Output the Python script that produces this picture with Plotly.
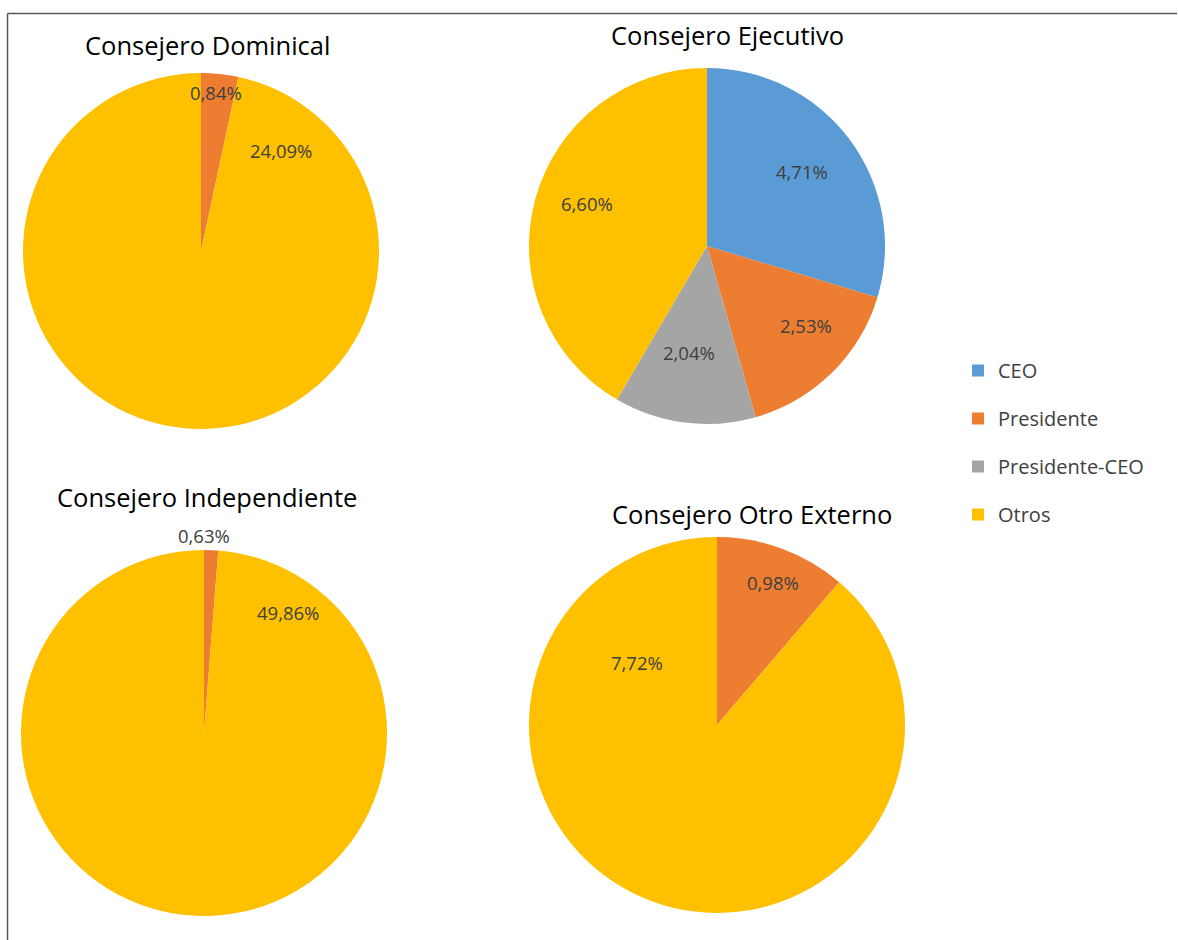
import plotly.graph_objects as go

W, H = 1178, 940

# Categories and shares (percent of all board members)
categorias = ["CEO", "Presidente", "Presidente-CEO", "Otros"]
colores = ["#5B9BD5", "#ED7D31", "#A5A5A5", "#FFC000"]

titulos = ["Consejero Dominical", "Consejero Ejecutivo",
           "Consejero Independiente", "Consejero Otro Externo"]

dominical_cat = ["Presidente", "Otros"]
dominical_val = [0.84, 24.09]

ejecutivo_cat = ["CEO", "Presidente", "Presidente-CEO", "Otros"]
ejecutivo_val = [4.71, 2.53, 2.04, 6.60]

independiente_cat = ["Presidente", "Otros"]
independiente_val = [0.63, 49.86]

externo_cat = ["Presidente", "Otros"]
externo_val = [0.98, 7.72]

series = [(dominical_cat, dominical_val), (ejecutivo_cat, ejecutivo_val),
          (independiente_cat, independiente_val), (externo_cat, externo_val)]

# Layout in pixels: pie centre, radius, title centre, label centres
pies = [
    dict(c=(201, 251), r=178, t=(207, 45), lab=[(216, 92), (281, 151)]),
    dict(c=(707, 246), r=178, t=(727, 35),
         lab=[(802, 172), (806, 325), (689, 352), (587, 204)]),
    dict(c=(204, 733), r=183, t=(207, 497), lab=[(204, 535), (288, 612)]),
    dict(c=(717, 725), r=188, t=(752, 514), lab=[(773, 582), (637, 662)]),
]

FONT = "'Open Sans', 'Noto Sans', sans-serif"


def px(x):
    return x / W


def py(y):
    return 1 - y / H


def fmt(v):
    return f"{v:.2f}%".replace(".", ",")


color_map = dict(zip(categorias, colores))

fig = go.Figure()
annotations = []

for (cats, vals), geo, titulo in zip(series, pies, titulos):
    cx, cy = geo["c"]
    r = geo["r"]
    fig.add_trace(go.Pie(
        labels=cats,
        values=vals,
        sort=False,
        direction="clockwise",
        rotation=0,
        textinfo="none",
        marker=dict(colors=[color_map[c] for c in cats],
                    line=dict(width=0)),
        domain=dict(x=[px(cx - r), px(cx + r)], y=[py(cy + r), py(cy - r)]),
        showlegend=False,
        hoverinfo="label+value",
    ))
    annotations.append(dict(
        x=px(geo["t"][0]), y=py(geo["t"][1]), xref="paper", yref="paper",
        text=titulo, showarrow=False, xanchor="center", yanchor="middle",
        font=dict(family=FONT, size=25.5, color="#000000"),
    ))
    for v, (lx, ly) in zip(vals, geo["lab"]):
        annotations.append(dict(
            x=px(lx), y=py(ly), xref="paper", yref="paper",
            text=fmt(v), showarrow=False, xanchor="center", yanchor="middle",
            font=dict(family=FONT, size=18.5, color="#404040"),
        ))

# Legend entries
for cat, col in zip(categorias, colores):
    fig.add_trace(go.Scatter(
        x=[None], y=[None], mode="markers", name=cat,
        marker=dict(symbol="square", size=14, color=col),
        legendgroup=cat, showlegend=True,
    ))

# Chart frame (top and left edges)
shapes = [
    dict(type="line", xref="paper", yref="paper",
         x0=px(7.5), y0=0, x1=px(7.5), y1=py(13.5),
         line=dict(color="#595959", width=1.5)),
    dict(type="line", xref="paper", yref="paper",
         x0=px(7.5), y0=py(13.5), x1=px(1177), y1=py(13.5),
         line=dict(color="#595959", width=1.5)),
]

fig.update_layout(
    width=W, height=H,
    margin=dict(l=0, r=0, t=0, b=0),
    paper_bgcolor="white", plot_bgcolor="white",
    xaxis=dict(visible=False, domain=[0.999, 1]),
    yaxis=dict(visible=False, domain=[0.999, 1]),
    annotations=annotations,
    shapes=shapes,
    legend=dict(
        x=px(958), y=py(351), xanchor="left", yanchor="top",
        font=dict(family=FONT, size=20, color="#404040"),
        tracegroupgap=19, itemsizing="constant",
        bgcolor="rgba(0,0,0,0)",
    ),
    font=dict(family=FONT),
)

fig.write_html("out.html")
